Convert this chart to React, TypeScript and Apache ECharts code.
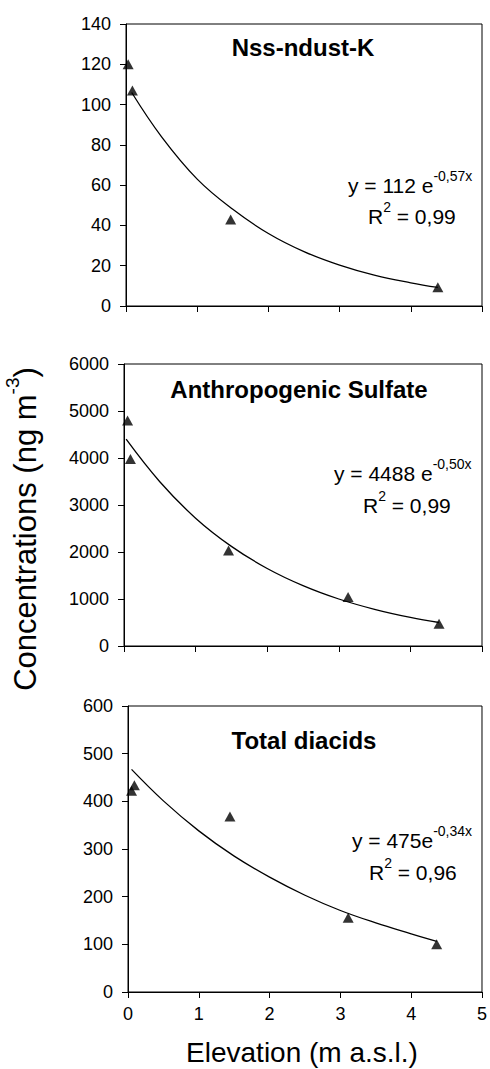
import React, { useEffect, useRef } from "react";
import * as echarts from "echarts";

// Panel titles
const titles = ["Nss-ndust-K", "Anthropogenic Sulfate", "Total diacids"];

// Measured points [elevation, concentration]
const kPoints = [[0.03, 120], [0.09, 107], [1.47, 43], [4.38, 9.3]];
const sulfatePoints = [[0.05, 4800], [0.09, 3980], [1.46, 2030], [3.13, 1040], [4.4, 475]];
const diacidPoints = [[0.05, 422], [0.09, 434], [1.44, 368], [3.11, 156], [4.36, 100]];

// Trend curves
const kCurve = [[0.08, 106], [0.5, 84], [1, 63], [1.5, 48], [2, 36], [2.5, 27], [3, 20.3], [3.5, 15.2], [4, 11.5], [4.38, 9.2]];
const sulfateCurve = [[0.03, 4400], [0.5, 3495], [1, 2720], [1.5, 2120], [2, 1650], [2.5, 1285], [3, 1000], [3.5, 780], [4, 607], [4.4, 500]];
const diacidCurve = [[0.05, 467], [0.5, 401], [1, 338], [1.5, 285], [2, 241], [2.5, 203], [3, 171], [3.5, 145], [4, 122], [4.36, 106]];

// Axis ranges
const yMax = [140, 6000, 600];
const yStep = [20, 1000, 100];
const xMax = 5;
const xStep = 1;

// Equation texts
const eqBase = ["y = 112 e", "y = 4488 e", "y = 475e"];
const eqExp = ["-0,57x", "-0,50x", "-0,34x"];
const r2 = ["0,99", "0,99", "0,96"];

const FONT = "'Liberation Sans', Arial, sans-serif";

export default function App() {
  const ref = useRef<HTMLDivElement>(null);
  useEffect(() => {
    document.body.style.margin = "0";
    const chart = echarts.init(ref.current!, null, { renderer: "svg" });
    const grids = [
      { left: 126, top: 24, width: 356, height: 282 },
      { left: 124, top: 364, width: 358, height: 282 },
      { left: 128, top: 706, width: 354, height: 286 },
    ];
    const points = [kPoints, sulfatePoints, diacidPoints];
    const curves = [kCurve, sulfateCurve, diacidCurve];
    const titlePos = [[303, 47], [299, 389], [304, 740]];
    const eqPos = [[348, 185], [334, 473], [352, 840]];
    const r2Pos = [[368, 216], [363, 505], [369, 872]];

    const series: any[] = [];
    points.forEach((p, i) => {
      series.push({
        type: "line",
        xAxisIndex: i,
        yAxisIndex: i,
        data: curves[i],
        smooth: 0.4,
        showSymbol: false,
        lineStyle: { color: "#000", width: 1.3 },
        silent: true,
      });
      series.push({
        type: "scatter",
        xAxisIndex: i,
        yAxisIndex: i,
        data: p,
        symbol: "triangle",
        symbolSize: [11, 10],
        itemStyle: { color: "#000" },
      });
    });

    const rich = {
      b: { fontSize: 21, fontFamily: FONT, fill: "#000", lineHeight: 32, verticalAlign: "middle" },
      s: { fontSize: 14, fontFamily: FONT, fill: "#000", lineHeight: 14, verticalAlign: "top" },
    };
    const graphics: any[] = [];
    titles.forEach((t, i) => {
      graphics.push({
        type: "text",
        x: titlePos[i][0],
        y: titlePos[i][1],
        style: {
          text: t,
          fontSize: 24,
          fontWeight: "bold",
          fontFamily: FONT,
          fill: "#000",
          align: "center",
          verticalAlign: "middle",
        },
      });
      graphics.push({
        type: "text",
        x: eqPos[i][0],
        y: eqPos[i][1],
        style: {
          text: `{b|${eqBase[i]}}{s|${eqExp[i]}}`,
          align: "left",
          verticalAlign: "middle",
          rich,
        },
      });
      graphics.push({
        type: "text",
        x: r2Pos[i][0],
        y: r2Pos[i][1],
        style: {
          text: `{b|R}{s|2}{b| = ${r2[i]}}`,
          align: "left",
          verticalAlign: "middle",
          rich,
        },
      });
    });
    graphics.push({
      type: "text",
      x: 302,
      y: 1052,
      style: {
        text: "Elevation (m a.s.l.)",
        fontSize: 28,
        lineHeight: 28,
        fontFamily: FONT,
        fill: "#000",
        align: "center",
        verticalAlign: "middle",
      },
    });
    graphics.push({
      type: "text",
      x: 25,
      y: 529,
      rotation: Math.PI / 2,
      style: {
        text: "{b|Concentrations (ng m}{s|-3}{b|)}",
        align: "center",
        verticalAlign: "middle",
        rich: {
          b: { fontSize: 31, fontFamily: FONT, fill: "#000", lineHeight: 44, verticalAlign: "middle" },
          s: { fontSize: 19, fontFamily: FONT, fill: "#000", lineHeight: 19, verticalAlign: "top" },
        },
      },
    });

    chart.setOption({
      animation: false,
      backgroundColor: "#fff",
      grid: grids.map((g) => ({ ...g, show: true, borderColor: "#000", borderWidth: 1, containLabel: false })),
      xAxis: grids.map((_, i) => ({
        type: "value",
        gridIndex: i,
        min: 0,
        max: xMax,
        interval: xStep,
        axisLine: { show: true, lineStyle: { color: "#000", width: 1 } },
        axisTick: { show: true, length: 6, inside: false, lineStyle: { color: "#000" } },
        axisLabel: { show: i === 2, color: "#000", fontSize: 18, fontFamily: FONT, margin: 13, formatter: (v: number) => String(v) },
        splitLine: { show: false },
      })),
      yAxis: grids.map((_, i) => ({
        type: "value",
        gridIndex: i,
        min: 0,
        max: yMax[i],
        interval: yStep[i],
        axisLine: { show: true, lineStyle: { color: "#000", width: 1 } },
        axisTick: { show: true, length: 6, inside: false, lineStyle: { color: "#000" } },
        axisLabel: { color: "#000", fontSize: 18, fontFamily: FONT, margin: 15, formatter: (v: number) => String(v) },
        splitLine: { show: false },
      })),
      series,
      graphic: graphics,
    });
    return () => chart.dispose();
  }, []);
  return <div ref={ref} style={{ width: 490, height: 1069 }} />;
}
